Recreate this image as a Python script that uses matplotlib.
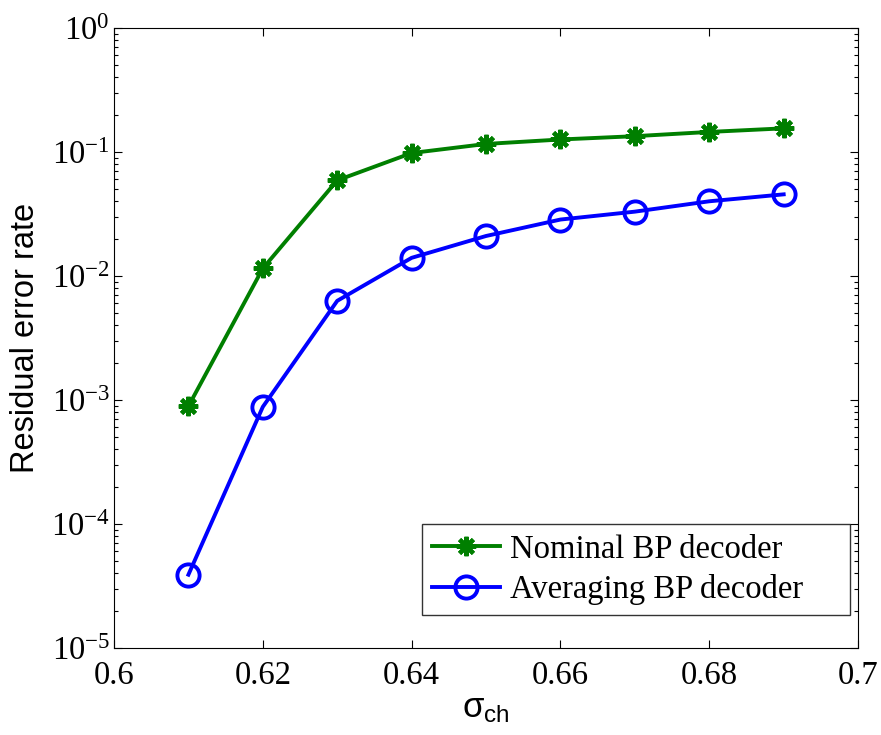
import matplotlib
matplotlib.use("Agg")
import matplotlib.pyplot as plt

sigma = [0.61, 0.62, 0.63, 0.64, 0.65, 0.66, 0.67, 0.68, 0.69]
nominal = [8.9e-4, 1.15e-2, 5.9e-2, 0.098, 0.116, 0.126, 0.134, 0.145, 0.155]
averaging = [3.9e-5, 8.8e-4, 6.3e-3, 1.4e-2, 2.1e-2, 2.85e-2, 3.3e-2, 4.0e-2, 4.55e-2]

serif = ['Liberation Serif', 'DejaVu Serif']
sans = ['Liberation Sans', 'DejaVu Sans']

plt.rcParams['mathtext.fontset'] = 'custom'
plt.rcParams['mathtext.rm'] = 'Liberation Serif'
plt.rcParams['mathtext.it'] = 'Liberation Serif:italic'
plt.rcParams['mathtext.sf'] = 'Liberation Sans'

fig = plt.figure(figsize=(8.81, 7.35), dpi=100)
ax = fig.add_axes([0.1294, 0.1184, 0.8446, 0.8436])

ax.semilogy(sigma, nominal, color='#007f00', lw=2.8, marker=(8, 2, 0),
            ms=14, mew=3.0, label='Nominal BP decoder')
ax.semilogy(sigma, averaging, color='#0000ff', lw=2.8, marker='o',
            ms=16, mew=2.8, mfc='none', label='Averaging BP decoder')

ax.set_xlim(0.6, 0.7)
ax.set_ylim(1e-5, 1)
ax.set_xticks([0.6, 0.62, 0.64, 0.66, 0.68, 0.7])
ax.set_xticklabels(['0.6', '0.62', '0.64', '0.66', '0.68', '0.7'])
ax.tick_params(which='both', direction='in', top=True, right=True, width=0.8)
ax.tick_params(which='major', length=6, labelsize=23.5)
ax.tick_params(axis='x', pad=9)
ax.tick_params(axis='y', pad=3)
ax.tick_params(which='minor', length=3)
for lab in ax.get_xticklabels() + ax.get_yticklabels():
    lab.set_family(serif)

ax.set_xlabel(r'$\mathsf{\sigma_{ch}}$', fontsize=25, labelpad=0)
ax.set_ylabel('Residual error rate', fontsize=23.5, family=sans)
ax.yaxis.set_label_coords(-0.098, 0.5)

# legend box spans x 422-850, y 522-615 px in the reference
leg = ax.legend(loc='lower left', bbox_to_anchor=(0.414, 0.053, 0.575, 0.15),
                mode='expand', borderaxespad=0,
                prop={'family': serif, 'size': 23.5}, fancybox=False,
                edgecolor='black', handlelength=2.1, borderpad=0.3,
                labelspacing=0.3, handletextpad=0.3)
leg.get_frame().set_linewidth(1.0)

fig.savefig('out.png', dpi=100)
